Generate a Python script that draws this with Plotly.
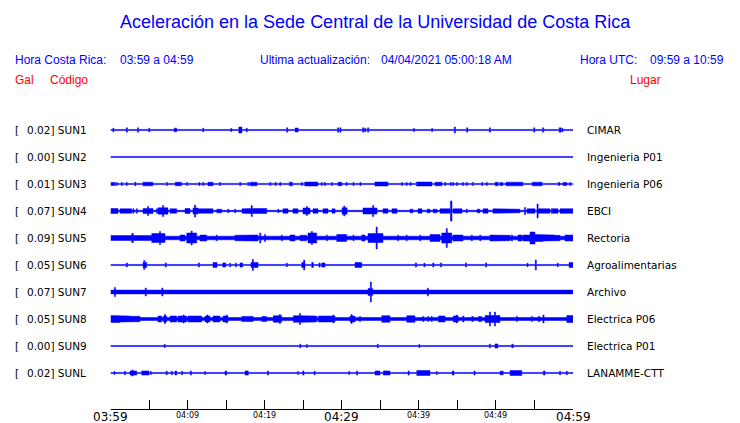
import plotly.graph_objects as go

# ---------------- data ----------------
codes = ["SUN1", "SUN2", "SUN3", "SUN4", "SUN5", "SUN6", "SUN7", "SUN8", "SUN9", "SUNL"]
gal_values = ["0.02", "0.00", "0.01", "0.07", "0.09", "0.05", "0.07", "0.05", "0.00", "0.02"]
places = ["CIMAR", "Ingenieria P01", "Ingenieria P06", "EBCI", "Rectoria",
          "Agroalimentarias", "Archivo", "Electrica P06", "Electrica P01", "LANAMME-CTT"]

tick_minutes = [0, 5, 10, 15, 20, 25, 30, 35, 40, 45, 50, 55, 60]
label_minutes_big = [0, 30, 60]
label_text_big = ["03:59", "04:29", "04:59"]
label_minutes_small = [10, 20, 40, 50]
label_text_small = ["04:09", "04:19", "04:39", "04:49"]

# baseline (noise) envelope half-amplitude per station (relative units)
baselines = [0.55, 0.55, 0.6, 0.7, 1.8, 0.55, 1.9, 1.5, 0.55, 0.55]

# burst events: (start minute, end minute, envelope half-amplitude)
ev_sun1 = [(0.30, 0.45, 1.8), (2.05, 2.2, 2.2), (3.5, 3.65, 2.2), (4.95, 5.1, 1.8), (8.25, 8.6, 1.8),
           (11.95, 12.1, 1.8), (15.6, 15.75, 1.5), (16.65, 17.05, 3.0), (17.6, 17.75, 1.8),
           (21.8, 22.2, 1.3), (22.85, 23.0, 2.2), (23.95, 24.35, 2.0), (29.45, 29.6, 2.2),
           (29.75, 29.9, 2.2), (32.7, 32.85, 2.2), (32.95, 33.1, 1.8), (33.35, 33.5, 2.2),
           (39.3, 39.45, 1.5), (41.65, 41.8, 1.5), (44.6, 44.75, 3.0), (46.2, 46.35, 2.2),
           (49.15, 49.3, 2.2), (54.9, 55.05, 2.2), (56.05, 56.2, 2.2), (58.2, 58.45, 2.2),
           (58.55, 58.7, 1.8)]
ev_sun2 = []
ev_sun3 = [(0.0, 0.6, 1.5), (0.75, 0.9, 1.5), (1.4, 1.55, 1.5), (2.05, 2.2, 1.5), (3.15, 3.3, 1.8),
           (4.2, 5.5, 1.8), (7.25, 7.4, 1.5), (8.4, 9.2, 1.8), (9.85, 10.0, 1.5), (11.45, 11.6, 1.5),
           (11.95, 12.1, 1.5), (12.65, 13.3, 1.8), (14.15, 14.3, 1.5), (16.75, 16.9, 1.5),
           (17.8, 17.95, 1.5), (18.1, 19.0, 1.8), (20.65, 20.8, 1.5), (21.35, 21.5, 1.5),
           (21.95, 22.1, 1.5), (23.2, 23.6, 1.8), (24.75, 24.9, 1.5), (25.2, 26.9, 2.0),
           (27.35, 27.5, 1.5), (27.75, 27.9, 1.5), (28.65, 28.8, 1.5), (29.5, 30.0, 1.8),
           (30.55, 30.7, 1.5), (31.45, 31.6, 1.5), (32.35, 32.5, 1.5), (34.3, 36.0, 2.0),
           (37.75, 37.9, 1.5), (38.35, 38.5, 1.5), (38.85, 39.0, 1.5), (39.7, 41.7, 2.0),
           (42.1, 43.0, 1.8), (43.35, 43.5, 1.5), (44.05, 44.2, 1.5), (44.35, 44.5, 1.5),
           (44.85, 45.0, 1.5), (45.65, 45.8, 1.5), (46.15, 46.3, 1.5), (46.95, 47.1, 1.5),
           (48.15, 48.3, 1.5), (48.75, 48.9, 1.5), (49.9, 50.3, 1.8), (50.5, 50.9, 1.5),
           (51.3, 53.5, 1.8), (54.7, 56.0, 1.8), (58.1, 58.3, 1.5), (58.7, 59.2, 1.5),
           (59.55, 59.7, 1.5)]
ev_sun4 = [(0.0, 0.97, 2.5), (1.23, 2.75, 2.2), (2.9, 3.05, 2.2), (3.35, 3.5, 2.2),
           (4.22, 5.51, 2.5), (4.8, 4.95, 4.5), (5.95, 6.1, 2.2), (6.16, 7.46, 3.2),
           (6.75, 6.9, 5.5), (7.72, 8.59, 2.2), (9.67, 10.32, 2.5), (10.7, 11.35, 3),
           (10.9, 11.05, 6), (11.22, 13.3, 2.2), (13.78, 14.43, 1.8), (15.2, 15.35, 1.8),
           (16.1, 16.25, 1.8), (17.06, 18.1, 2.2), (18.1, 20.27, 2.5), (18.25, 18.4, 5.5),
           (21.7, 21.85, 1.8), (22.38, 23.03, 2.2), (23.68, 24.33, 2.2), (24.97, 25.88, 3),
           (25.4, 25.55, 4.5), (26.27, 26.92, 2.2), (27.57, 28.22, 2.2), (28.74, 29.13, 2.2),
           (30.04, 30.69, 3.2), (30.25, 30.4, 5), (32.76, 34.58, 3), (34.0, 34.15, 5.5),
           (35.35, 36.0, 2.2), (36.52, 37.17, 2.2), (38.86, 39.25, 1.8), (39.89, 40.41, 2.2),
           (41.06, 41.45, 1.8), (41.84, 42.36, 1.8), (42.75, 44.04, 2.2), (44.1, 44.3, 10),
           (44.43, 45.6, 2.2), (46.15, 46.3, 1.8), (47.55, 47.94, 1.8), (48.33, 48.98, 2.2),
           (49.62, 50.53, 2.2), (50.53, 51.83, 2.2), (51.83, 53.13, 1.8), (53.7, 53.85, 3.5),
           (54.04, 55.07, 2.2), (55.33, 55.48, 7), (55.46, 57.02, 2.2), (57.2, 57.35, 2.5),
           (57.41, 58.06, 2.2), (58.32, 60.0, 2.3)]
ev_sun5 = [(0.0, 5.51, 2.5), (2.75, 2.96, 4.5), (5.35, 7.07, 4.5), (6.35, 6.5, 6.5),
           (9.02, 9.67, 3), (9.89, 11.18, 5), (10.45, 10.6, 7), (11.61, 12.48, 3),
           (13.7, 13.85, 2.8), (16.15, 18.1, 2.8), (18.1, 19.14, 3), (19.35, 19.5, 5),
           (19.97, 20.12, 3.5), (22.15, 22.3, 2.8), (23.29, 23.94, 3), (24.59, 25.45, 2.8),
           (25.62, 26.75, 5), (26.05, 26.2, 6.5), (28.0, 28.15, 2.8), (29.35, 30.64, 3.5),
           (31.45, 31.6, 2.8), (32.59, 33.02, 3), (33.41, 35.35, 4.5), (34.45, 34.6, 11),
           (37.25, 37.4, 2.8), (38.35, 38.5, 2.8), (40.1, 40.25, 2.8), (41.45, 42.75, 3.5),
           (42.97, 44.27, 5), (43.55, 43.7, 9.5), (44.43, 45.73, 3), (46.8, 46.95, 2.8),
           (47.9, 48.05, 2.8), (49.23, 50.53, 3), (50.53, 51.83, 2.7), (52.0, 52.15, 3),
           (52.87, 53.39, 3), (53.52, 54.69, 3), (54.43, 55.07, 6), (55.07, 56.11, 3.5),
           (56.11, 57.67, 3), (57.67, 58.32, 2.7), (58.97, 60.0, 3)]
ev_sun6 = [(2.05, 2.2, 2), (4.22, 4.7, 2.5), (4.3, 4.45, 4.5), (7.1, 7.25, 2.1),
           (11.4, 11.55, 2.1), (13.3, 13.82, 2.5), (14.56, 14.95, 2.1), (15.45, 15.6, 1.8),
           (16.2, 16.35, 1.8), (16.8, 17.15, 2.1), (18.23, 19.14, 2.5), (18.4, 18.55, 5.5),
           (22.8, 22.95, 1.8), (24.8, 25.23, 2.5), (25.05, 25.2, 5), (26.1, 26.31, 2.5),
           (27.05, 27.2, 2.1), (27.4, 27.83, 2.1), (31.72, 32.59, 2.5), (39.55, 39.7, 2.1),
           (40.65, 40.8, 1.8), (41.8, 41.95, 2.1), (42.8, 42.95, 2.1), (46.05, 46.2, 2.1),
           (48.65, 48.8, 2.1), (54.04, 54.17, 1.8), (55.1, 55.25, 5), (57.95, 58.1, 1.8),
           (59.49, 60.0, 2.5)]
ev_sun7 = [(0.5, 0.65, 4.5), (4.5, 4.65, 4), (6.65, 6.8, 4), (18.45, 18.6, 2.6),
           (28.4, 28.55, 2.6), (33.41, 34.02, 3.5), (33.7, 33.85, 10), (41.1, 41.25, 3.8),
           (49.88, 50.53, 2.6)]
ev_sun8 = [(0.0, 1.23, 3.5), (1.23, 2.53, 3), (2.53, 3.83, 2.7), (6.16, 6.64, 3),
           (6.85, 7.29, 3), (7.0, 7.15, 4.5), (7.72, 8.59, 3), (8.76, 9.89, 3),
           (9.4, 9.55, 4), (10.05, 11.83, 3), (12.26, 12.91, 3), (12.5, 12.65, 4),
           (13.3, 14.2, 3), (14.6, 15.24, 3), (15.0, 15.15, 4), (17.02, 18.1, 2.5),
           (18.1, 18.53, 2.5), (19.62, 20.27, 2.5), (21.12, 22.21, 3.3), (21.9, 22.05, 4.5),
           (23.72, 25.01, 3.3), (24.5, 24.65, 5.5), (25.01, 26.75, 3), (26.96, 29.13, 3),
           (28.85, 29.0, 4), (31.07, 31.72, 3), (31.2, 31.35, 4.5), (32.3, 32.45, 2.5),
           (35.19, 36.26, 3.3), (38.43, 39.5, 3.3), (40.5, 40.65, 2.5), (41.15, 41.3, 2.5),
           (41.6, 41.75, 2.5), (42.53, 43.4, 3), (44.47, 45.12, 3), (44.85, 45.0, 4),
           (45.7, 45.85, 3), (46.86, 47.07, 2.5), (47.72, 48.16, 2.5), (48.59, 50.53, 3.5),
           (49.15, 49.3, 7), (49.8, 49.95, 7), (52.65, 52.8, 2.5), (54.6, 54.75, 2.5),
           (55.5, 55.72, 2.5), (56.1, 56.25, 4), (59.19, 60.0, 3.5)]
ev_sun9 = [(6.95, 7.1, 1.6), (24.55, 24.7, 1.8), (25.4, 25.55, 1.4), (34.6, 34.75, 1.8),
           (40.0, 40.15, 1.4), (49.15, 49.3, 1.8), (49.88, 50.27, 2.1), (52.05, 52.26, 1.8)]
ev_sunl = [(0.45, 0.6, 1.4), (1.8, 1.95, 1.8), (2.53, 3.4, 2.1), (2.78, 2.93, 3.0),
           (4.05, 4.99, 2.1), (5.15, 5.3, 1.4), (7.22, 7.37, 1.8), (7.9, 8.05, 1.8),
           (8.37, 8.59, 2.1), (9.2, 9.35, 1.8), (10.35, 10.5, 2.1), (12.2, 12.35, 1.4),
           (14.86, 15.08, 2.1), (17.45, 17.88, 2.1), (20.35, 20.5, 2.1), (24.25, 24.4, 1.4),
           (24.95, 25.1, 2.1), (26.4, 26.55, 1.8), (30.9, 31.05, 1.4), (31.9, 32.05, 2.1),
           (34.32, 34.96, 2.1), (35.39, 36.26, 2.1), (38.6, 38.75, 2.1), (39.73, 41.45, 2.5),
           (42.25, 42.4, 1.4), (44.34, 44.56, 2.1), (47.15, 47.3, 2.1), (50.53, 50.96, 1.8),
           (51.83, 53.35, 2.5), (56.15, 56.37, 2.1), (58.25, 58.4, 1.8), (59.12, 59.27, 1.8)]

station_events = [ev_sun1, ev_sun2, ev_sun3, ev_sun4, ev_sun5,
                  ev_sun6, ev_sun7, ev_sun8, ev_sun9, ev_sunl]

# ---------------- layout constants ----------------
W, H = 740, 423
X0_PX, X1_PX = 110.5, 573.0        # plot area horizontal extent (px)
TOP_PX, BOT_PX = 110.0, 409.0      # plot area vertical extent (px)
FIRST_TRACE_PX, TRACE_STEP_PX = 130.0, 27.0
T_START, T_END = 0.0, 60.0
AMP_SCALE = 1.0 / TRACE_STEP_PX     # relative amplitude -> trace units
TXT_DX = -1                         # annotation padding compensation (px)

y_top = (TOP_PX - FIRST_TRACE_PX) / TRACE_STEP_PX
y_bot = (BOT_PX - FIRST_TRACE_PX) / TRACE_STEP_PX

BLUE = "#0000FF"
RED = "#FF0000"


def envelope(events, base):
    pts = {T_START, T_END}
    for a, b, _ in events:
        pts.add(max(T_START, a))
        pts.add(min(T_END, b))
    pts = sorted(pts)
    xs, amps = [], []
    for i in range(len(pts) - 1):
        a, b = pts[i], pts[i + 1]
        mid = 0.5 * (a + b)
        amp = base
        for s, e, v in events:
            if s <= mid <= e:
                amp = max(amp, v)
        xs += [a, b]
        amps += [amp, amp]
    return xs, amps


fig = go.Figure()
for i, (ev, base) in enumerate(zip(station_events, baselines)):
    xs, amps = envelope(ev, base)
    upper = [i - a * AMP_SCALE for a in amps]
    lower = [i + a * AMP_SCALE for a in amps]
    fig.add_trace(go.Scatter(
        x=xs + xs[::-1], y=upper + lower[::-1],
        mode="lines", fill="toself", fillcolor=BLUE,
        line=dict(color=BLUE, width=0.5), hoverinfo="skip"))


def px(xp):
    return xp / W


def py(yp):
    return 1 - yp / H


ann = []
# title & header
ann.append(dict(text="Aceleración en la Sede Central de la Universidad de Costa Rica",
                x=px(375), y=py(22), xanchor="center", yanchor="middle",
                font=dict(family="Liberation Sans, Arial", size=18, color=BLUE)))
header = [("Hora Costa Rica:", 15, 60, BLUE), ("03:59 a 04:59", 120, 60, BLUE),
          ("Ultima actualización:", 260, 60, BLUE), ("04/04/2021 05:00:18 AM", 381, 60, BLUE),
          ("Hora UTC:", 580, 60, BLUE), ("09:59 a 10:59", 650, 60, BLUE),
          ("Gal", 15, 80, RED), ("Código", 50, 80, RED), ("Lugar", 630, 80, RED)]
for t, xx, yy, c in header:
    ann.append(dict(text=t, x=px(xx + TXT_DX), y=py(yy), xanchor="left", yanchor="middle",
                    font=dict(family="Liberation Sans, Arial", size=12, color=c)))

# station labels
lab_font = dict(family="DejaVu Sans", size=10.5, color="black")
for i, (c, g, p) in enumerate(zip(codes, gal_values, places)):
    yy = FIRST_TRACE_PX + i * TRACE_STEP_PX
    ann.append(dict(text="[", x=px(15 + TXT_DX), y=py(yy), xanchor="left", yanchor="middle", font=lab_font))
    ann.append(dict(text=f"{g}] {c}", x=px(27 + TXT_DX), y=py(yy), xanchor="left", yanchor="middle", font=lab_font))
    ann.append(dict(text=p, x=px(587 + TXT_DX), y=py(yy), xanchor="left", yanchor="middle", font=lab_font))

# time labels
for m, t in zip(label_minutes_big, label_text_big):
    ann.append(dict(text=t, x=m, xref="x", y=py(416.5), yref="paper", xanchor="center",
                    yanchor="middle", font=dict(family="DejaVu Sans", size=12, color="black")))
for m, t in zip(label_minutes_small, label_text_small):
    ann.append(dict(text=t, x=m, xref="x", y=py(415.5), yref="paper", xanchor="center",
                    yanchor="middle", font=dict(family="DejaVu Sans", size=8, color="black")))

for a in ann:
    a.setdefault("xref", "paper")
    a.setdefault("yref", "paper")
    a["showarrow"] = False
    a["borderpad"] = 0

fig.update_layout(
    width=W, height=H, margin=dict(l=0, r=0, t=0, b=0),
    paper_bgcolor="white", plot_bgcolor="white", showlegend=False,
    annotations=ann,
    xaxis=dict(domain=[X0_PX / W, X1_PX / W], range=[T_START, T_END],
               showgrid=False, zeroline=False, showline=True, linecolor="black", linewidth=1,
               ticks="inside", tickvals=tick_minutes, ticklen=9, tickcolor="black", tickwidth=1,
               showticklabels=False, fixedrange=True),
    yaxis=dict(domain=[1 - BOT_PX / H, 1 - TOP_PX / H], range=[y_bot, y_top],
               visible=False, fixedrange=True),
)

fig.write_html("out.html", config={"displayModeBar": False},
               post_script="document.body.style.margin='0';document.body.style.overflow='hidden';")
